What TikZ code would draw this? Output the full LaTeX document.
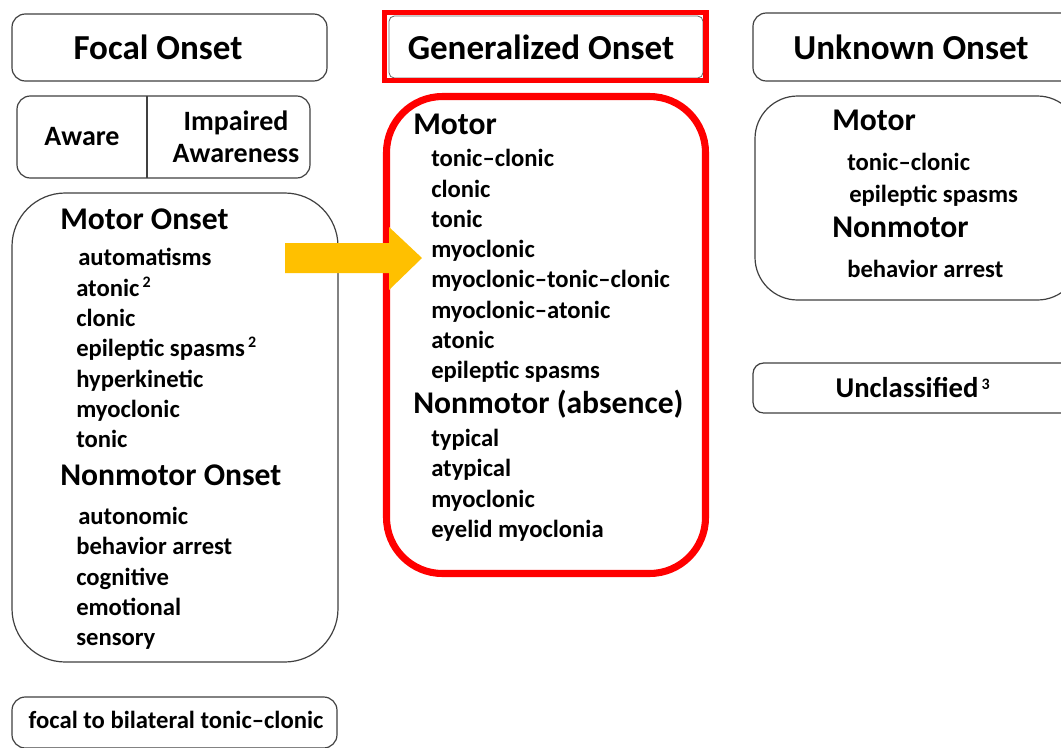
\documentclass[tikz,border=0pt]{standalone}
\usepackage{fontspec}
\setmainfont{Carlito}
\begin{document}
\begin{tikzpicture}[x=0.75pt,y=-0.75pt,
  gbox/.style={draw=black!75,line width=0.9pt},
  ttl/.style={font=\bfseries\fontsize{26.3}{28}\selectfont,inner sep=0pt},
  hdr/.style={font=\bfseries\fontsize{23.7}{26}\selectfont,anchor=base west,inner sep=0pt},
  itm/.style={font=\bfseries\fontsize{18.5}{20}\selectfont,anchor=base west,inner sep=0pt},
  sup/.style={font=\bfseries\fontsize{12}{14}\selectfont,anchor=base west,inner sep=0pt,yshift=6.5pt}]
\useasboundingbox (0,0) rectangle (1061,747);
\fill[white] (0,0) rectangle (1061,747);
\begin{scope}
\clip (0,0) rectangle (1061,747);
% Focal column
\draw[gbox,rounded corners=10] (12,14) rectangle (327,81);
\node[ttl] (focal) at (158,47) {Focal Onset};
\draw[gbox,rounded corners=10] (17,96) rectangle (310,178);
\draw[gbox] (147,96) -- (147,178);
\node[font=\bfseries\fontsize{21}{23}\selectfont,inner sep=0pt] (aware) at (82,137) {Aware};
\node[font=\bfseries\fontsize{21}{24}\selectfont,inner sep=0pt,align=center] (impaired) at (236,137) {Impaired\\Awareness};
\draw[gbox,rounded corners=40] (12,193) rectangle (338,662);
\node[hdr] (mo) at (60,229) {Motor Onset};
\node[itm] (m1) at (78,265) {automatisms};
\node[itm] (m2) at (76,296) {atonic};
\node[sup] (s2a) at (m2.base east) {\,2};
\node[itm] (m3) at (76,326) {clonic};
\node[itm] (m4) at (76,356) {epileptic spasms};
\node[sup] (s2b) at (m4.base east) {\,2};
\node[itm] (m5) at (76,387) {hyperkinetic};
\node[itm] (m6) at (76,417) {myoclonic};
\node[itm] (m7) at (76,447) {tonic};
\node[hdr] (nmo) at (60,485) {Nonmotor Onset};
\node[itm] (n1) at (78,524) {autonomic};
\node[itm] (n2) at (76,554) {behavior arrest};
\node[itm] (n3) at (76,585) {cognitive};
\node[itm] (n4) at (76,615) {emotional};
\node[itm] (n5) at (76,645) {sensory};
\draw[gbox,rounded corners=10] (12,697) rectangle (337,748);
\node[itm,anchor=center] (fbtc) at (176,720) {focal to bilateral tonic–clonic};
% Generalized column
\draw[draw=black!60,line width=0.6pt,rounded corners=4] (389,16) rectangle (703,78);
\draw[red,line width=4pt] (384.5,12.5) rectangle (706,80.5);
\node[ttl] (gen) at (541,47) {Generalized Onset};
\draw[red,line width=5.3pt,rounded corners=42] (386.5,96.5) rectangle (705.5,573.5);
\node[hdr] (gm) at (413,134) {Motor};
\node[itm] (g1) at (431,166) {tonic–clonic};
\node[itm] (g2) at (431,197) {clonic};
\node[itm] (g3) at (431,227) {tonic};
\node[itm] (g4) at (431,257) {myoclonic};
\node[itm] (g5) at (431,287) {myoclonic–tonic–clonic};
\node[itm] (g6) at (431,318) {myoclonic–atonic};
\node[itm] (g7) at (431,348) {atonic};
\node[itm] (g8) at (431,378) {epileptic spasms};
\node[hdr] (gn) at (413,413) {Nonmotor (absence)};
\node[itm] (h1) at (431,446) {typical};
\node[itm] (h2) at (431,476) {atypical};
\node[itm] (h3) at (431,507) {myoclonic};
\node[itm] (h4) at (431,537) {eyelid myoclonia};
% Unknown column
\draw[gbox,rounded corners=10] (753,13) rectangle (1080,81);
\node[ttl] (unk) at (911,47) {Unknown Onset};
\draw[gbox,rounded corners=32] (755,96) rectangle (1080,300);
\node[hdr] (um) at (832,130) {Motor};
\node[itm] (u1) at (847,170) {tonic–clonic};
\node[itm] (u2) at (849,202) {epileptic spasms};
\node[hdr] (un) at (832,237) {Nonmotor};
\node[itm] (u3) at (847,277) {behavior arrest};
\draw[gbox,rounded corners=8] (753,363) rectangle (1080,413);
\node[font=\bfseries\fontsize{21.5}{24}\selectfont,inner sep=0pt] (uncl) at (907,388) {Unclassified};
\node[sup] (s3) at (uncl.base east) {\,3};
% arrow
\fill[fill={rgb,255:red,255;green,192;blue,0}] (285,243) -- (389,243) -- (389,227) -- (422,258) -- (389,290) -- (389,273) -- (285,273) -- cycle;
\end{scope}
\end{tikzpicture}
\end{document}
